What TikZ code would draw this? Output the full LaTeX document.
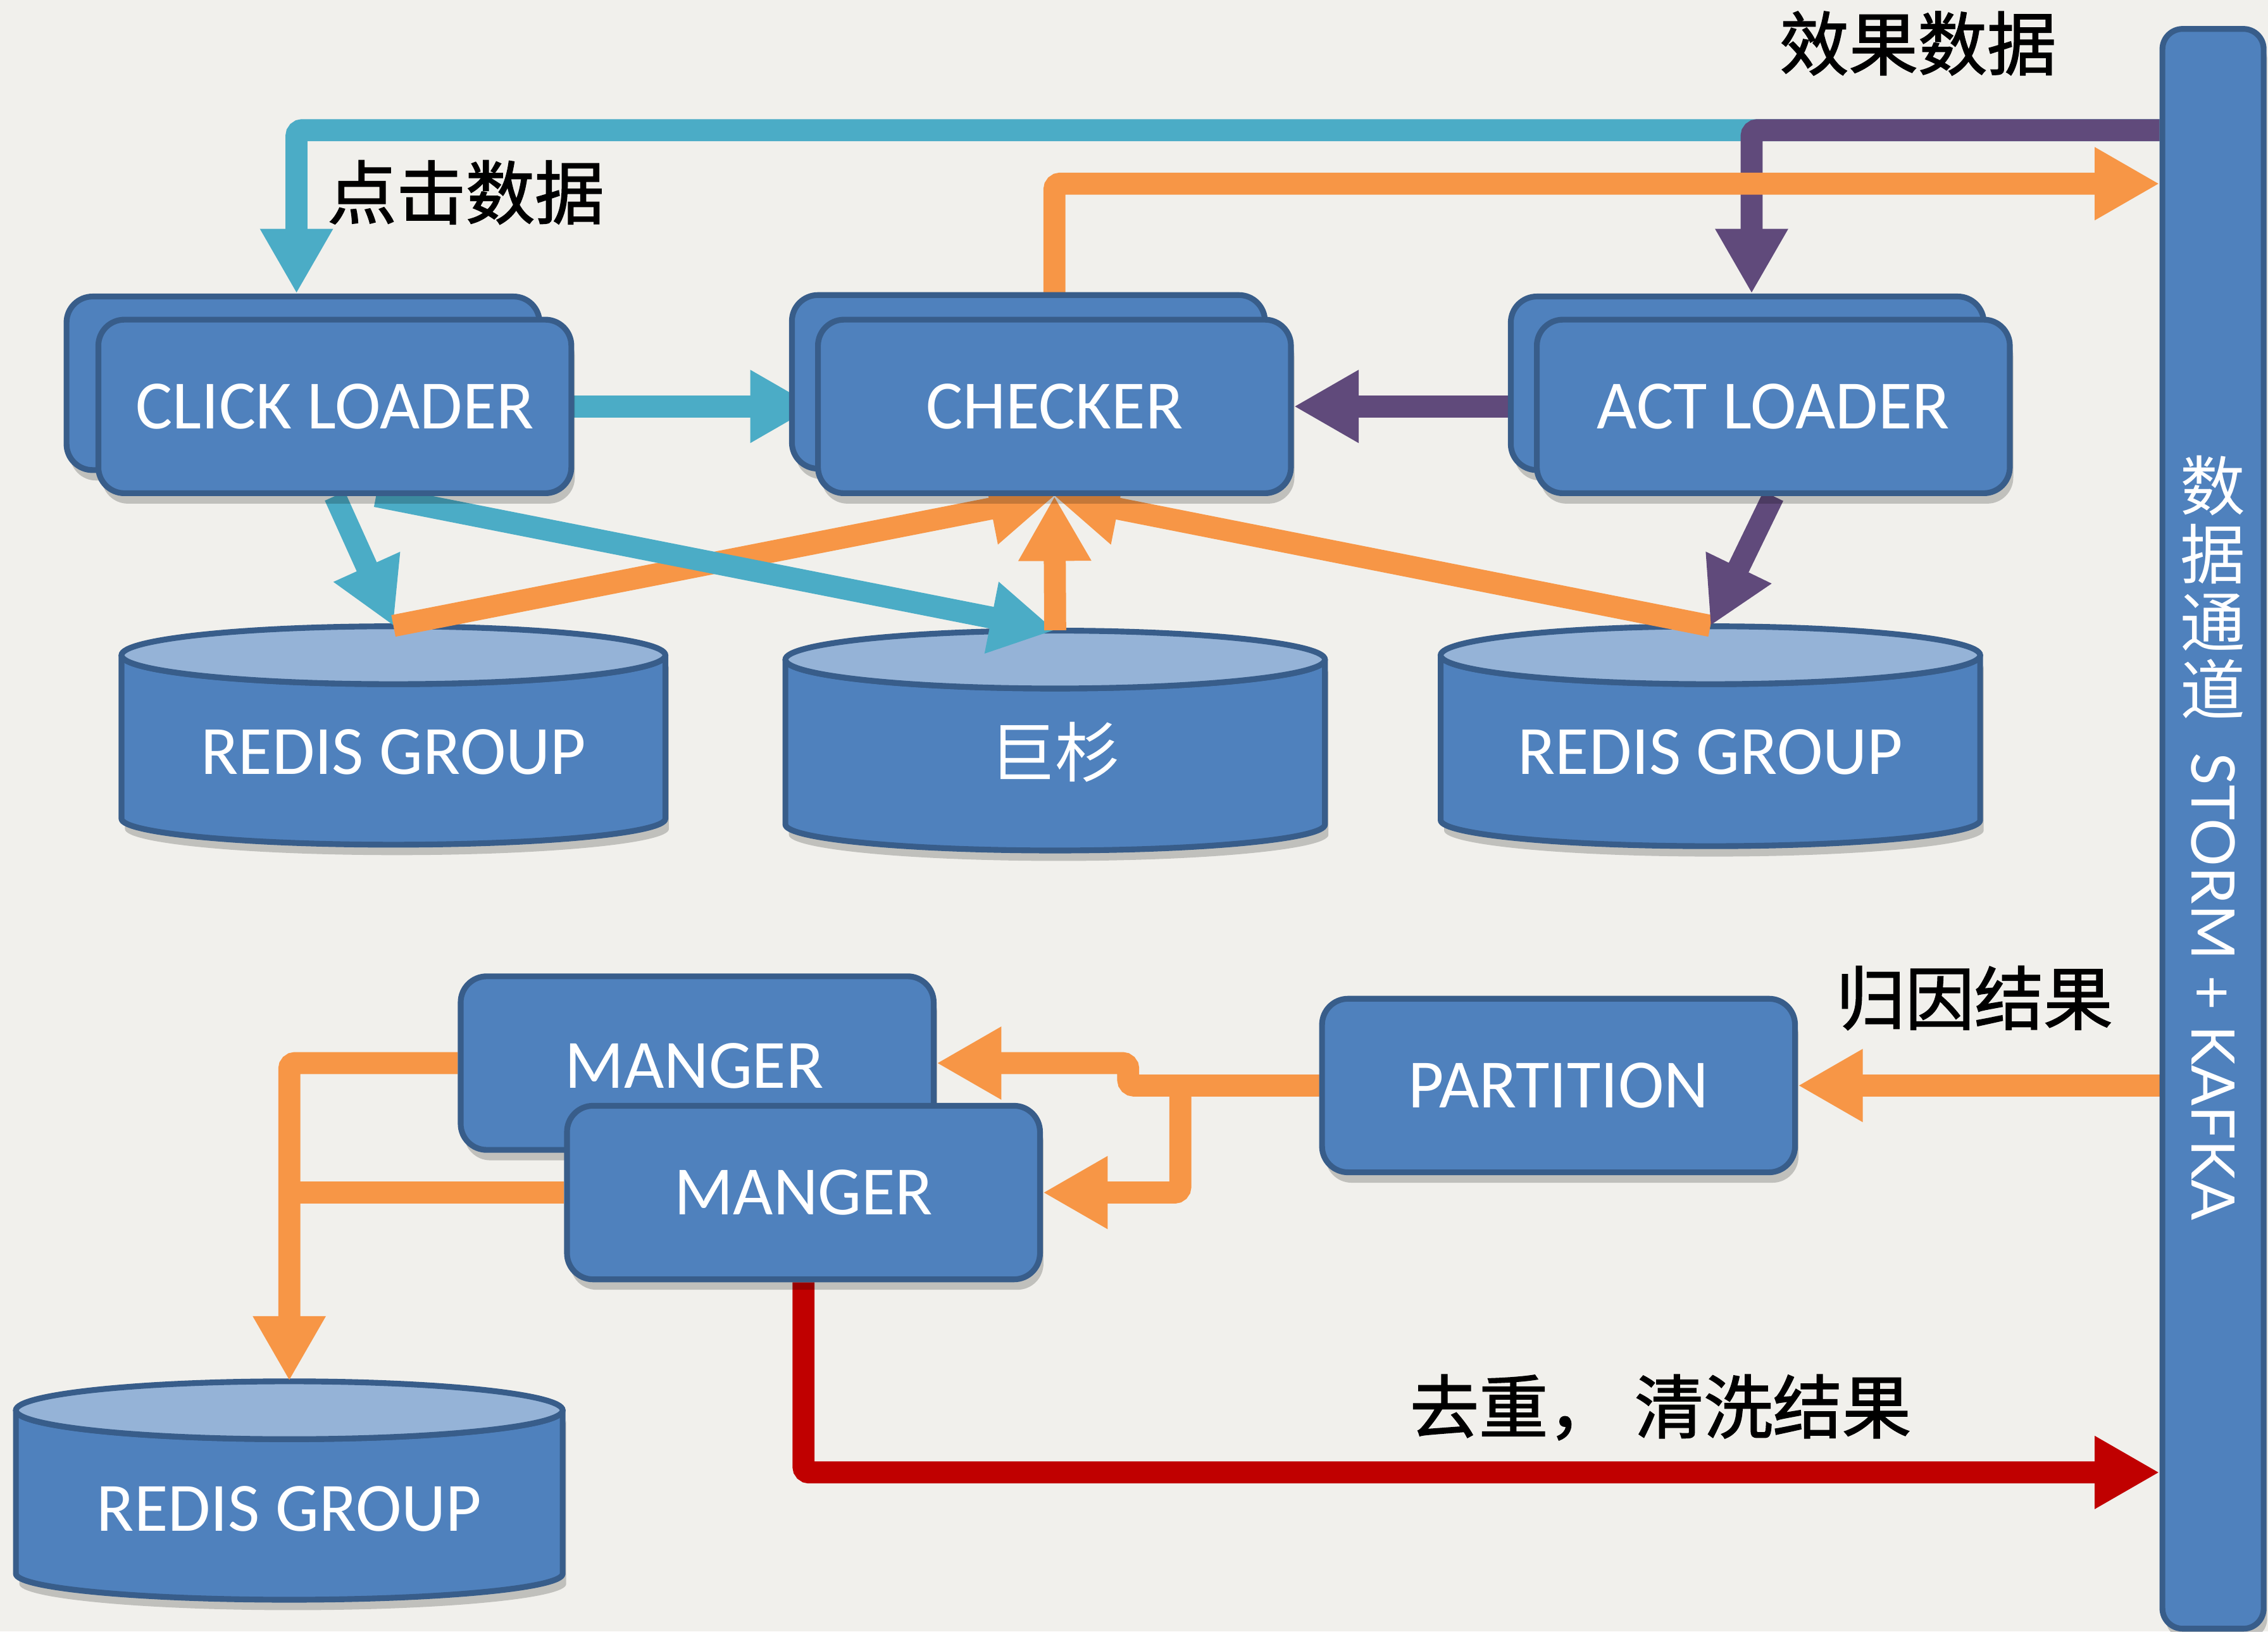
\documentclass[tikz,border=0pt]{standalone}
\usepackage{fontspec}
\setmainfont{Carlito}
\newfontfamily\cjk{Noto Sans CJK SC}
\newfontfamily\cjkb[FakeBold=1.6]{Noto Sans CJK SC}
\newfontfamily\storm{Lato}
\usetikzlibrary{arrows.meta,shadows}
\definecolor{bgc}{RGB}{241,240,236}
\definecolor{boxfill}{RGB}{79,129,189}
\definecolor{boxline}{RGB}{56,93,138}
\definecolor{captop}{RGB}{149,179,215}
\definecolor{cyanc}{RGB}{75,172,198}
\definecolor{orangec}{RGB}{247,150,70}
\definecolor{purplec}{RGB}{96,74,123}
\definecolor{redc}{RGB}{192,0,0}
\pgfdeclarelayer{front}
\pgfsetlayers{main,front}
\def\uu{0.025cm}
\newcommand\dbcyl[4]{%
  \pgfmathsetmacro\cxx{(#1+#2)/2}%
  \pgfmathsetmacro\rxx{(#2-#1)/2}%
  \pgfmathsetmacro\yta{#3+20}%
  \pgfmathsetmacro\ybb{#4-18}%
  \draw[cylbody] (#1,\yta) -- (#1,\ybb) arc[start angle=180,end angle=0,x radius=\rxx,y radius=18] -- (#2,\yta) arc[start angle=0,end angle=180,x radius=\rxx,y radius=20] -- cycle;
  \draw[cyltop] (\cxx,\yta) ellipse[x radius=\rxx, y radius=20];
}
\begin{document}
\begin{tikzpicture}[x=0.025cm,y=-0.025cm,
  shd/.style={drop shadow={shadow xshift=0.06cm, shadow yshift=-0.18cm, opacity=0.2, fill=black}},
  blk/.style={draw=boxline, fill=boxfill, line width=0.1cm, rounded corners=0.45cm,
    minimum width=327*\uu, minimum height=120*\uu, text=white, inner sep=0pt,
    font=\fontsize{34}{36}\selectfont, shd},
  cylbody/.style={draw=boxline, fill=boxfill, line width=0.1cm, line join=round, shd},
  cyltop/.style={draw=boxline, fill=captop, line width=0.1cm},
  cyltext/.style={text=white, inner sep=0pt, minimum width=300*\uu, font=\fontsize{34}{36}\selectfont},
  lbl/.style={text=black, inner sep=0pt, font=\cjkb\fontsize{34}{36}\selectfont},
  con/.style={line width=0.38cm, rounded corners=0.1cm},
  hd/.style={-{Triangle[length=1.12cm,width=1.18cm]}},
]
\fill[bgc] (0,0) rectangle (1568,1128);
\useasboundingbox (0,0) rectangle (1568,1128);

% cylinders
\dbcyl{84}{460}{433}{584}
\dbcyl{543}{916}{436}{588}
\dbcyl{996}{1369}{433}{585}
\dbcyl{11}{389}{955}{1106}
\node[cyltext, minimum height=174*\uu] (redis1) at (272,520) {REDIS GROUP};
\node[cyltext, minimum height=168*\uu, font=\cjk\fontsize{32}{34}\selectfont] (jushan) at (729.5,520) {巨杉};
\node[cyltext, minimum height=174*\uu] (redis2) at (1182.5,520) {REDIS GROUP};
\node[cyltext, minimum height=176*\uu] (redis3) at (200,1043) {REDIS GROUP};

% boxes (front layer)
\begin{pgfonlayer}{front}
\node[blk] (clickb) at (209.5,265) {};
\node[blk] (click) at (231.5,281) {CLICK LOADER};
\node[blk] (checkb) at (711,264) {};
\node[blk] (check) at (729,281) {CHECKER};
\node[blk] (actb) at (1208,265) {};
\node[blk] (act) at (1226,281) {ACT LOADER};
\node[blk] (mgr1) at (482,735) {};
\node[text=white, inner sep=0pt, font=\fontsize{34}{36}\selectfont] (mgr1t) at (480,737) {MANGER};
\node[blk] (mgr2) at (555.5,824.5) {MANGER};
\node[blk] (part) at (1077.5,750.5) {PARTITION};
\node[draw=boxline, fill=boxfill, line width=0.1cm, rounded corners=0.35cm,
      minimum width=70*\uu, minimum height=1106*\uu, inner sep=0pt, shd] (bus) at (1530,573) {};
\node[text=white, align=center, inner sep=0pt, font=\cjk\fontsize{32}{33.4}\selectfont] (busjp) at (1530,406) {数\\据\\通\\道};
\node[text=white, rotate=-90, inner sep=0pt, font=\storm\fontsize{29.5}{32}\selectfont] (busen) at (1530,682) {STORM + KAFKA};
\end{pgfonlayer}

% labels
\node[lbl] (lclick) at (322,133) {点击数据};
\node[lbl] (leffect) at (1326,30) {效果数据};
\node[lbl] (lattr) at (1365,690) {归因结果};
\node[lbl] (lclean) at (1148,973) {去重，\hspace{0.25em}清洗结果};

% connectors
\draw[con, hd, cyanc] (bus.west |- 0,90) -| (clickb.north -| 205,0);
\draw[con, hd, purplec] (bus.west |- 0,90) -| (actb.north -| 1211,0);
\draw[con, hd, orangec] (check.north) |- (bus.west |- 0,127);
\draw[con, hd, cyanc] (click.east) -- (check.west);
\draw[con, hd, purplec] (act.west) -- (check.east);
\draw[con, hd, cyanc] (click.south) -- (redis1.north);
\draw[con, hd, orangec] (redis1.north) -- (check.south);
\draw[con, hd, orangec] (redis2.north) -- (check.south);
\draw[con, hd, cyanc] (click.south -| 260,0) -- (jushan.north);
\draw[con, hd, orangec] (jushan.north) -- (check.south);
\draw[con, hd, purplec] (act.south) -- (redis2.north);

\draw[con, hd, orangec] (bus.west |- part.east) -- (part.east);
\draw[con, hd, orangec] (part.west) -- (780,750.5) -- (780,735) -- (mgr1.east);
\draw[con, hd, orangec] (part.west) -| (mgr2.east -| 816,0) -- (mgr2.east);
\draw[con, hd, orangec] (mgr1.west) -| (redis3.north);
\draw[con, orangec] (mgr2.west) -- (mgr2.west -| redis3.north);
\draw[con, hd, redc] (mgr2.south) |- (bus.west |- 0,1018);
\end{tikzpicture}
\end{document}
